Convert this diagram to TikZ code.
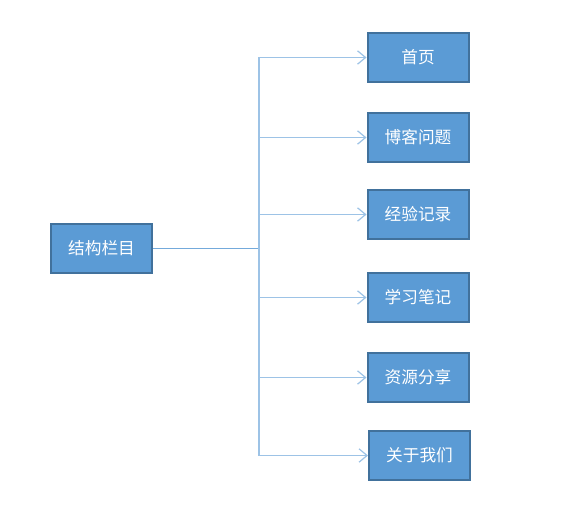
\documentclass[tikz,border=0pt]{standalone}
\usepackage{fontspec}
\newfontfamily\cjk{Noto Sans CJK SC}
\usetikzlibrary{arrows.meta}
\definecolor{boxfill}{HTML}{5B9BD5}
\definecolor{boxline}{HTML}{41719C}
\definecolor{linkline}{HTML}{9DC3E6}
\tikzset{
  menubox/.style={draw=boxline, line width=1.5pt, fill=boxfill, text=white,
    minimum width=101*0.75pt, minimum height=49*0.75pt, inner sep=0pt,
    font=\cjk\fontsize{12.5}{14}\selectfont},
  link/.style={draw=linkline, line width=1.3pt},
  tolink/.style={link, -{Straight Barb[length=6pt, width=10pt, line width=0.9pt]}}
}
\begin{document}
\begin{tikzpicture}[x=0.75pt, y=-0.75pt]
	\useasboundingbox (0,0) rectangle (578,514);
	% root and menu boxes
	\node[menubox] (root) at (101.5,248.5) {结构栏目};
	\node[menubox] (home) at (418,57.5) {首页};
	\node[menubox] (blog) at (418,137.5) {博客问题};
	\node[menubox] (exp) at (418,214.5) {经验记录};
	\node[menubox] (note) at (418,297.5) {学习笔记};
	\node[menubox] (share) at (418,377.5) {资源分享};
	\node[menubox] (about) at (419.5,455.5) {关于我们};
	% fork point
	\coordinate (fork) at (259,248.5);
	\draw[link, draw=boxfill!85!white] (root) -- (fork);
	% branches to each box
	\foreach \n in {home,blog,exp,note,share,about}
		\draw[tolink] (fork) |- (\n);
\end{tikzpicture}
\end{document}
